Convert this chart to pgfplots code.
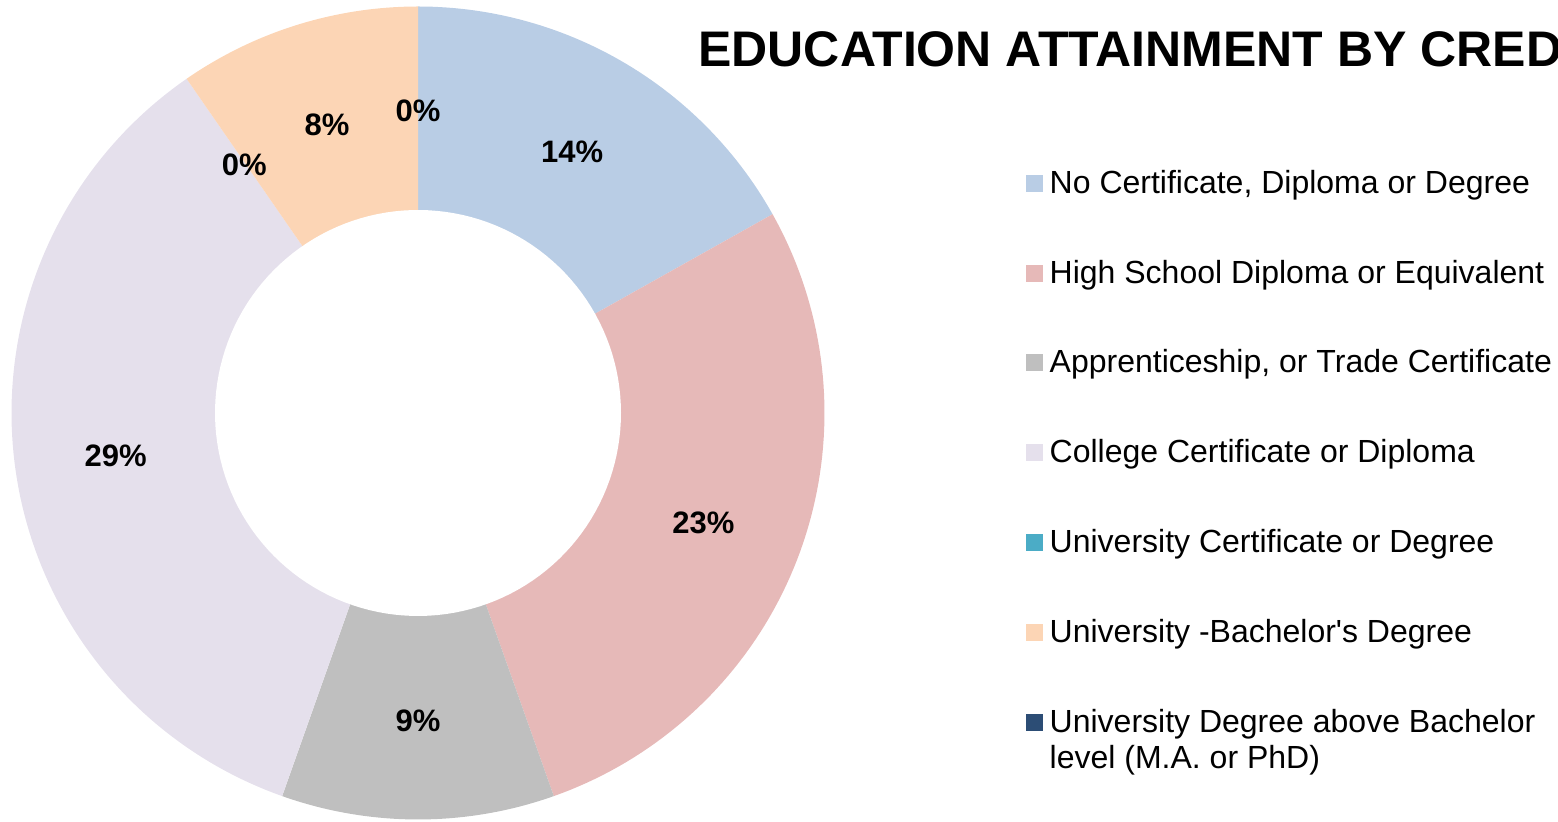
\documentclass[border=0pt]{standalone}
\usepackage{pgfplots}
\pgfplotsset{compat=1.18}
\usepackage{fontspec}
\setmainfont{Liberation Sans}

\definecolor{cA}{HTML}{B9CDE5}
\definecolor{cB}{HTML}{E6B9B8}
\definecolor{cC}{HTML}{BFBFBF}
\definecolor{cD}{HTML}{E5E0EC}
\definecolor{cE}{HTML}{4BACC6}
\definecolor{cF}{HTML}{FCD5B5}
\definecolor{cG}{HTML}{2C4D75}

% data (percent)
\def\vA{14}\def\vB{23}\def\vC{9}\def\vD{29}\def\vE{0}\def\vF{8}\def\vG{0}
\pgfmathsetmacro\tot{\vA+\vB+\vC+\vD+\vE+\vF+\vG}
\pgfmathsetmacro\degper{360/\tot}
\pgfmathsetmacro\aA{90}
\pgfmathsetmacro\aB{\aA-\degper*\vA}
\pgfmathsetmacro\aC{\aB-\degper*\vB}
\pgfmathsetmacro\aD{\aC-\degper*\vC}
\pgfmathsetmacro\aE{\aD-\degper*\vD}
\pgfmathsetmacro\aF{\aE-\degper*\vE}
\pgfmathsetmacro\aG{\aF-\degper*\vF}
\pgfmathsetmacro\aH{\aG-\degper*\vG}
\def\cx{418}\def\cy{409}\def\R{406.5}\def\ri{203}\def\rl{305}

\newcommand\lab[3]{% angle1, angle2, text
  \pgfmathsetmacro\mm{(#1+#2)/2}%
  \pgfmathsetmacro\lx{\cx+\rl*cos(\mm)}%
  \pgfmathsetmacro\ly{\cy-2.5+\rl*sin(\mm)}%
  \edef\tmp{\noexpand\node[font=\noexpand\bfseries\noexpand\fontsize{15.5}{18}\noexpand\selectfont, inner sep=0pt]
    at (axis cs:\lx,\ly) {#3\noexpand\%};}%
  \tmp}

\begin{document}
\begin{tikzpicture}
\begin{axis}[
  at={(0,0)}, anchor=south west,
  width=779pt, height=411pt, scale only axis,
  xmin=0, xmax=1558, ymin=0, ymax=822,
  hide axis, clip=false,
  legend image code/.code={\path[#1, draw=none] (0pt,-3pt) rectangle (8.5pt,5.5pt);},
  legend cell align=left,
  legend style={
    at={(axis description cs:0.6585,0.792)}, anchor=north west,
    draw=none, fill=none, inner sep=0pt,
    font=\fontsize{16}{18}\selectfont,
    row sep=30.4pt,
    nodes={inner sep=0pt, text height=11pt, text depth=3.5pt},
    /tikz/every odd column/.append style={column sep=3.2pt},
  },
]
\addplot[fill=cA, draw=none, forget plot, domain=\aB:\aA, samples=60]
  ({\cx+\R*cos(x)},{\cy+\R*sin(x)}) -- (axis cs:\cx,\cy) -- cycle;
\addplot[fill=cB, draw=none, forget plot, domain=\aC:\aB, samples=80]
  ({\cx+\R*cos(x)},{\cy+\R*sin(x)}) -- (axis cs:\cx,\cy) -- cycle;
\addplot[fill=cC, draw=none, forget plot, domain=\aD:\aC, samples=40]
  ({\cx+\R*cos(x)},{\cy+\R*sin(x)}) -- (axis cs:\cx,\cy) -- cycle;
\addplot[fill=cD, draw=none, forget plot, domain=\aE:\aD, samples=100]
  ({\cx+\R*cos(x)},{\cy+\R*sin(x)}) -- (axis cs:\cx,\cy) -- cycle;
\addplot[fill=cF, draw=none, forget plot, domain=\aG:\aF, samples=40]
  ({\cx+\R*cos(x)},{\cy+\R*sin(x)}) -- (axis cs:\cx,\cy) -- cycle;
% hole
\addplot[fill=white, draw=none, forget plot, domain=0:360, samples=150]
  ({\cx+\ri*cos(x)},{\cy+\ri*sin(x)}) -- cycle;

\lab{\aA}{\aB}{\vA}
\lab{\aB}{\aC}{\vB}
\lab{\aC}{\aD}{\vC}
\lab{\aD}{\aE}{\vD}
\lab{\aE}{\aF}{\vE}
\lab{\aF}{\aG}{\vF}
\lab{\aG}{\aH}{\vG}

\node[anchor=base west, inner sep=0pt, font=\bfseries\fontsize{25}{28}\selectfont]
  at (axis cs:698,755) {EDUCATION ATTAINMENT BY CREDENTIAL};

\addlegendimage{fill=cA}\addlegendentry{No Certificate, Diploma or Degree}
\addlegendimage{fill=cB}\addlegendentry{High School Diploma or Equivalent}
\addlegendimage{fill=cC}\addlegendentry{Apprenticeship, or Trade Certificate}
\addlegendimage{fill=cD}\addlegendentry{College Certificate or Diploma}
\addlegendimage{fill=cE}\addlegendentry{University Certificate or Degree}
\addlegendimage{fill=cF}\addlegendentry{University -Bachelor\textquotesingle s Degree}
\addlegendimage{fill=cG}\addlegendentry{\raisebox{0pt}[\height][0pt]{\begin{tabular}[t]{@{}l@{}}University Degree above Bachelor\\level (M.A. or PhD)\end{tabular}}}
\end{axis}
\pgfresetboundingbox
\path[use as bounding box] (0,0) rectangle (779pt,411pt);
\end{tikzpicture}
\end{document}
